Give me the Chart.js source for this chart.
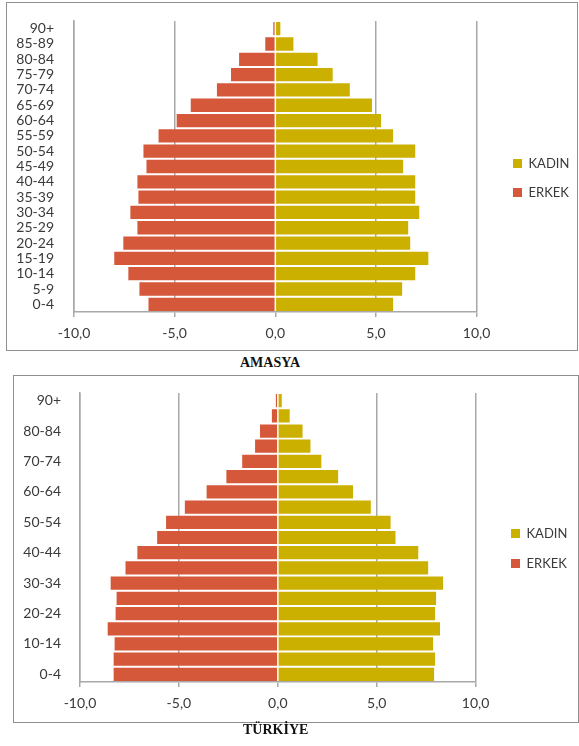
<!DOCTYPE html>
<html>
<head>
<meta charset="utf-8">
<script src="https://cdn.jsdelivr.net/npm/chart.js@4/dist/chart.umd.min.js"></script>
<style>
  html, body { margin: 0; padding: 0; background: #fff; }
  body { width: 579px; height: 746px; position: relative; overflow: hidden; }
  .box { position: absolute; border: 1px solid #8f8f8f; box-sizing: border-box; background: #fff; }
  .box canvas { position: absolute; left: 0; top: 0; }
  .title { position: absolute; font-family: 'Liberation Serif', 'Times New Roman', serif; font-weight: bold;
           font-size: 14px; line-height: 16px; color: #111; white-space: nowrap; }
</style>
</head>
<body>
<div class="box" style="left:6px;top:2px;width:572px;height:349px;"><canvas id="amasya" width="570" height="347"></canvas></div>
<div class="title" style="left:240px;top:355px;">AMASYA</div>
<div class="box" style="left:13px;top:375px;width:566px;height:348px;"><canvas id="turkiye" width="564" height="346"></canvas></div>
<div class="title" style="left:243px;top:722px;">TÜRKİYE</div>

<script>
// Age groups, youngest first (drawn bottom-up)
const ageGroups = ['0-4','5-9','10-14','15-19','20-24','25-29','30-34','35-39','40-44','45-49',
                   '50-54','55-59','60-64','65-69','70-74','75-79','80-84','85-89','90+'];

// Share of population (%) — men plotted to the left as negative values
const amasyaErkek  = [-6.3, -6.75, -7.3, -8.0, -7.55, -6.85, -7.2, -6.8, -6.85, -6.4,
                      -6.55, -5.8, -4.9, -4.2, -2.9, -2.2, -1.8, -0.5, -0.1];
const amasyaKadin  = [5.85, 6.3, 6.95, 7.6, 6.7, 6.6, 7.15, 6.95, 6.95, 6.35,
                      6.95, 5.85, 5.25, 4.8, 3.7, 2.85, 2.1, 0.9, 0.25];

const turkiyeErkek = [-8.3, -8.3, -8.25, -8.6, -8.2, -8.15, -8.45, -7.7, -7.1, -6.1,
                      -5.65, -4.7, -3.6, -2.6, -1.8, -1.15, -0.9, -0.3, -0.1];
const turkiyeKadin = [7.9, 7.95, 7.85, 8.2, 7.95, 8.0, 8.35, 7.6, 7.1, 5.95,
                      5.7, 4.7, 3.8, 3.05, 2.2, 1.65, 1.25, 0.6, 0.2];

// Horizontal axis ticks
const axisMin = -10, axisMax = 10, axisStep = 5;

const seriesNames = { erkek: 'ERKEK', kadin: 'KADIN' };
const colors = { erkek: '#d6583a', kadin: '#cbb000', grid: '#a8a8a8', text: '#3a3a3a' };

Chart.defaults.font.family = 'Lato, "Open Sans", sans-serif';
Chart.defaults.color = colors.text;

// Moves the legend block to a fixed spot after the layout pass
const legendPlacer = {
  id: 'legendPlacer',
  afterLayout(chart, args, opts) {
    const lg = chart.legend;
    if (!lg || opts.left == null) return;
    const w = lg.right - lg.left, h = lg.bottom - lg.top;
    lg.left = opts.left; lg.right = opts.left + w;
    lg.top = opts.top; lg.bottom = opts.top + h;
  }
};

function fmt(v) { return v.toFixed(1).replace('.', ','); }

function pyramid(canvasId, erkek, kadin, cfg) {
  return new Chart(document.getElementById(canvasId), {
    type: 'bar',
    data: {
      labels: ageGroups,
      datasets: [
        { label: seriesNames.erkek, data: erkek, backgroundColor: colors.erkek, borderWidth: 0 },
        { label: seriesNames.kadin, data: kadin, backgroundColor: colors.kadin, borderWidth: 0 }
      ]
    },
    plugins: [legendPlacer],
    options: {
      indexAxis: 'y',
      responsive: false,
      animation: false,
      datasets: { bar: { barPercentage: 0.87, categoryPercentage: 1 } },
      layout: { padding: { top: cfg.padTop, left: 0, bottom: 0, right: cfg.padRight } },
      scales: {
        x: {
          type: 'linear', stacked: true, min: axisMin, max: axisMax,
          ticks: { stepSize: axisStep, callback: v => fmt(v), padding: 8,
                   font: { size: 14 }, color: colors.text, maxRotation: 0 },
          grid: {
            color: c => (c.tick && c.tick.value === 0) ? 'rgba(0,0,0,0)' : colors.grid,
            lineWidth: 1.5, tickLength: 5, tickColor: colors.grid, tickWidth: 1.5
          },
          border: { color: colors.grid, width: 1.5 },
          afterFit: s => { s.height = cfg.xAxisHeight; }
        },
        y: {
          type: 'category', stacked: true, reverse: true,
          // invisible tick marks keep the labels clear of the axis line
          grid: { display: true, drawOnChartArea: false, drawTicks: true, tickLength: cfg.labelGap,
                  color: 'rgba(0,0,0,0)', tickColor: 'rgba(0,0,0,0)' },
          border: { display: true, color: colors.grid, width: 1.5 },
          ticks: { autoSkip: false, padding: 0, font: { size: 14 }, color: colors.text,
                   callback: function (v, i) { return (i % cfg.labelEvery === 0) ? this.getLabelForValue(v) : ''; } },
          afterFit: s => { s.width = cfg.yAxisWidth; }
        }
      },
      plugins: {
        legend: {
          position: 'right', align: 'start', reverse: true,
          labels: { boxWidth: 9, boxHeight: 9, padding: cfg.legendPad, font: { size: 13 }, color: colors.text }
        },
        legendPlacer: { left: cfg.legendLeft, top: cfg.legendTop },
        tooltip: { enabled: false }
      }
    }
  });
}

pyramid('amasya', amasyaErkek, amasyaKadin, {
  padTop: 18, padRight: 18, xAxisHeight: 38, yAxisWidth: 67, labelGap: 20, labelEvery: 1,
  legendPad: 16, legendLeft: 490, legendTop: 138
});

pyramid('turkiye', turkiyeErkek, turkiyeKadin, {
  padTop: 17, padRight: 19, xAxisHeight: 40, yAxisWidth: 66, labelGap: 19, labelEvery: 2,
  legendPad: 17, legendLeft: 480, legendTop: 134
});
</script>
</body>
</html>
